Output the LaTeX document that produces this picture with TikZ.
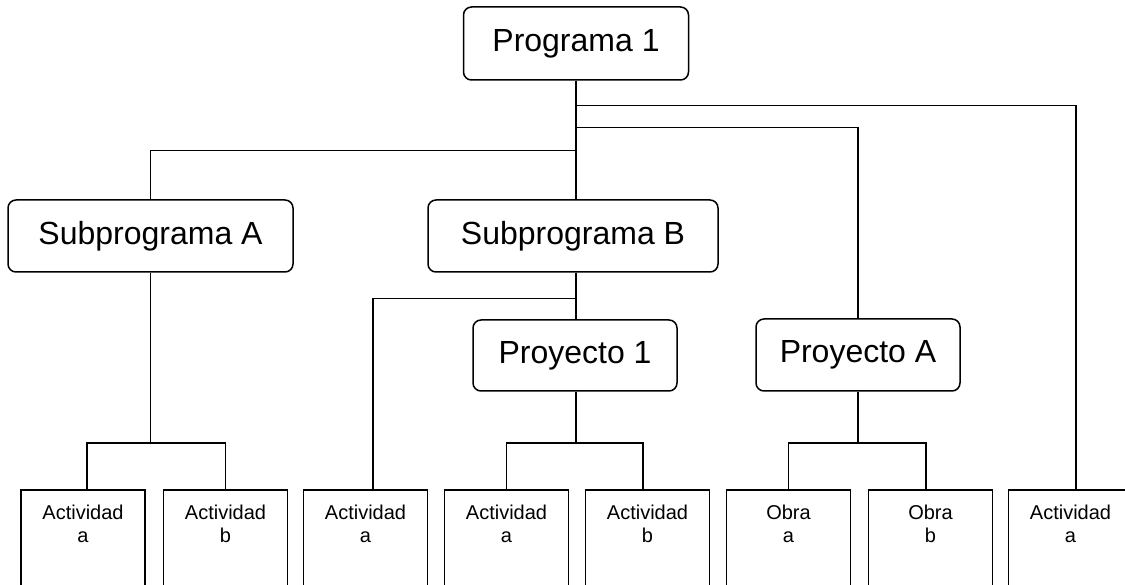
\documentclass[tikz,border=0pt]{standalone}
\usepackage{fontspec}
\setmainfont{Liberation Sans}
\usetikzlibrary{calc}
\tikzset{
  topbox/.style={draw, line width=1.5pt, rounded corners=8pt, inner sep=0pt,
    font=\fontsize{32}{36}\selectfont},
  leafbox/.style={draw, line width=1.5pt, inner sep=0pt, anchor=north,
    minimum width=124pt, minimum height=130pt},
  leaftext/.style={inner sep=0pt, anchor=north, align=center, yshift=-16pt,
    font=\fontsize{20}{23}\selectfont},
  conn/.style={line width=1.5pt}
}
\begin{document}
\begin{tikzpicture}[x=1pt,y=-1pt]
\useasboundingbox (0,0) rectangle (1125,585);
\clip (0,0) rectangle (1125,585);
\fill[white] (0,0) rectangle (1125,585);
% top level
\node[topbox, minimum width=225pt, minimum height=73pt] (p1) at (576,43.5) {Programa 1};
\node[topbox, minimum width=285pt, minimum height=72pt] (sa) at (150.5,236) {Subprograma A};
\node[topbox, minimum width=290pt, minimum height=72pt] (sb) at (573,236) {Subprograma B};
\node[topbox, minimum width=204pt, minimum height=71pt] (pr1) at (575,355.5) {Proyecto 1};
\node[topbox, minimum width=204pt, minimum height=72pt] (pra) at (858,355) {Proyecto A};
% leaves
\node[leafbox] (b1) at (83,489) {};
\node[leafbox] (b2) at (225.5,489) {};
\node[leafbox] (b3) at (365.5,489) {};
\node[leafbox] (b4) at (506.5,489) {};
\node[leafbox] (b5) at (647.5,489) {};
\node[leafbox] (b6) at (788.5,489) {};
\node[leafbox] (b7) at (930.5,489) {};
\node[leafbox] (b8) at (1070.5,489) {};
\node[leaftext] (t1) at (b1.north) {Actividad\\a};
\node[leaftext] (t2) at (b2.north) {Actividad\\b};
\node[leaftext] (t3) at (b3.north) {Actividad\\a};
\node[leaftext] (t4) at (b4.north) {Actividad\\a};
\node[leaftext] (t5) at (b5.north) {Actividad\\b};
\node[leaftext] (t6) at (b6.north) {Obra\\a};
\node[leaftext] (t7) at (b7.north) {Obra\\b};
\node[leaftext] (t8) at (b8.north) {Actividad\\a};
% connectors from Programa 1
\draw[conn] (p1.south) -- (p1.south |- sb.north);
\draw[conn] ($(p1.south)+(0,25)$) -| ([xshift=5.5pt]b8.north);
\draw[conn] ($(p1.south)+(0,47)$) -| (pra.north);
\draw[conn] ($(p1.south)+(0,70)$) -| (sa.north);
% Subprograma A
\coordinate (ja) at ($(sa.south)+(0,170)$);
\draw[conn] (sa.south) -- (ja);
\draw[conn] (ja) -| ([xshift=4pt]b1.north);
\draw[conn] (ja) -| (b2.north);
% Subprograma B
\draw[conn] (p1.south |- sb.south) -- (p1.south |- pr1.north);
\draw[conn] ($(p1.south |- sb.south)+(0,26)$) -| ([xshift=7.5pt]b3.north);
% Proyecto 1
\coordinate (jp1) at ($(p1.south |- pr1.south)+(0,51)$);
\draw[conn] (p1.south |- pr1.south) -- (jp1);
\draw[conn] (jp1) -| (b4.north);
\draw[conn] (jp1) -| ([xshift=-4.5pt]b5.north);
% Proyecto A
\coordinate (jpa) at ($(pra.south)+(0,51)$);
\draw[conn] (pra.south) -- (jpa);
\draw[conn] (jpa) -| (b6.north);
\draw[conn] (jpa) -| ([xshift=-4.5pt]b7.north);
\end{tikzpicture}
\end{document}
